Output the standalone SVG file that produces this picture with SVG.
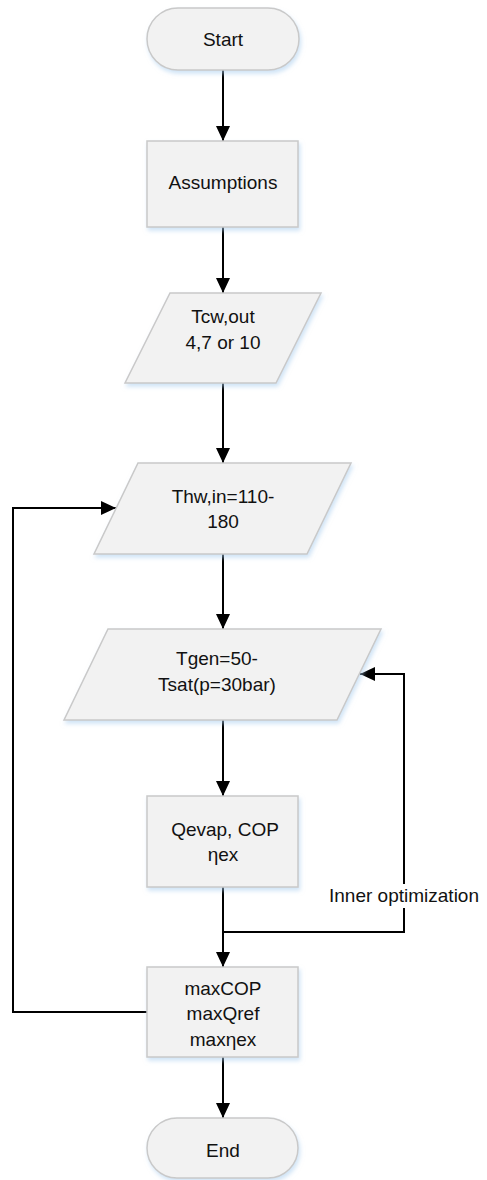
<svg xmlns="http://www.w3.org/2000/svg" width="487" height="1180" viewBox="0 0 487 1180">
<style>
.shape{fill:#f2f2f2;stroke:#c9c9c9;stroke-width:1.5;filter:url(#sh)}
.t{font-family:"Liberation Sans",Arial,sans-serif;font-size:19px;fill:#111;text-anchor:middle}
.c{fill:none;stroke:#000;stroke-width:2}
</style>
<defs>
<filter id="sh" x="-10%" y="-10%" width="125%" height="130%">
<feDropShadow dx="1.5" dy="3" stdDeviation="2" flood-color="#a9cdee" flood-opacity="0.55"/>
</filter>
<marker id="ah" markerUnits="userSpaceOnUse" markerWidth="16" markerHeight="16" viewBox="0 0 16 16" refX="15" refY="8" orient="auto">
<path d="M0,1 L15,8 L0,15 Z" fill="#000"/>
</marker>
</defs>
<g id="connectors">
<line class="c" x1="223" y1="70" x2="223" y2="141" marker-end="url(#ah)"/>
<line class="c" x1="223" y1="227" x2="223" y2="293" marker-end="url(#ah)"/>
<line class="c" x1="223" y1="383" x2="223" y2="463" marker-end="url(#ah)"/>
<line class="c" x1="223" y1="554" x2="223" y2="629" marker-end="url(#ah)"/>
<line class="c" x1="223" y1="720" x2="223" y2="796" marker-end="url(#ah)"/>
<line class="c" x1="223" y1="887" x2="223" y2="967" marker-end="url(#ah)"/>
<line class="c" x1="223" y1="1057" x2="223" y2="1118" marker-end="url(#ah)"/>
<polyline class="c" points="147,1012 13,1012 13,508 116,508" marker-end="url(#ah)"/>
<polyline class="c" points="223,932 404,932 404,674 360,674" marker-end="url(#ah)"/>
<rect x="324" y="884" width="162" height="24" fill="#fff"/>
<text class="t" x="404" y="902">Inner optimization</text>
</g>
<g id="start">
<rect class="shape" x="147" y="8" width="152" height="62" rx="31"/>
<text class="t" x="223" y="46">Start</text>
</g>
<g id="assumptions">
<rect class="shape" x="147" y="141" width="151" height="86"/>
<text class="t" x="223" y="189">Assumptions</text>
</g>
<g id="tcw">
<polygon class="shape" points="170,293 321,293 276,383 125,383"/>
<text class="t" x="223" y="323">Tcw,out</text>
<text class="t" x="223" y="349">4,7 or 10</text>
</g>
<g id="thw">
<polygon class="shape" points="138,463 351,463 307,554 94,554"/>
<text class="t" x="223" y="503">Thw,in=110-</text>
<text class="t" x="223" y="528">180</text>
</g>
<g id="tgen">
<polygon class="shape" points="108,629 381,629 337,720 64,720"/>
<text class="t" x="217" y="665">Tgen=50-</text>
<text class="t" x="217" y="691">Tsat(p=30bar)</text>
</g>
<g id="qevap">
<rect class="shape" x="147" y="796" width="151" height="91"/>
<text class="t" x="225" y="836">Qevap, COP</text>
<text class="t" x="223" y="861">ηex</text>
</g>
<g id="max">
<rect class="shape" x="147" y="967" width="151" height="90"/>
<text class="t" x="223" y="995">maxCOP</text>
<text class="t" x="223" y="1020">maxQref</text>
<text class="t" x="223" y="1046">maxηex</text>
</g>
<g id="end">
<rect class="shape" x="147" y="1118" width="151" height="60" rx="30"/>
<text class="t" x="223" y="1157">End</text>
</g>
</svg>
